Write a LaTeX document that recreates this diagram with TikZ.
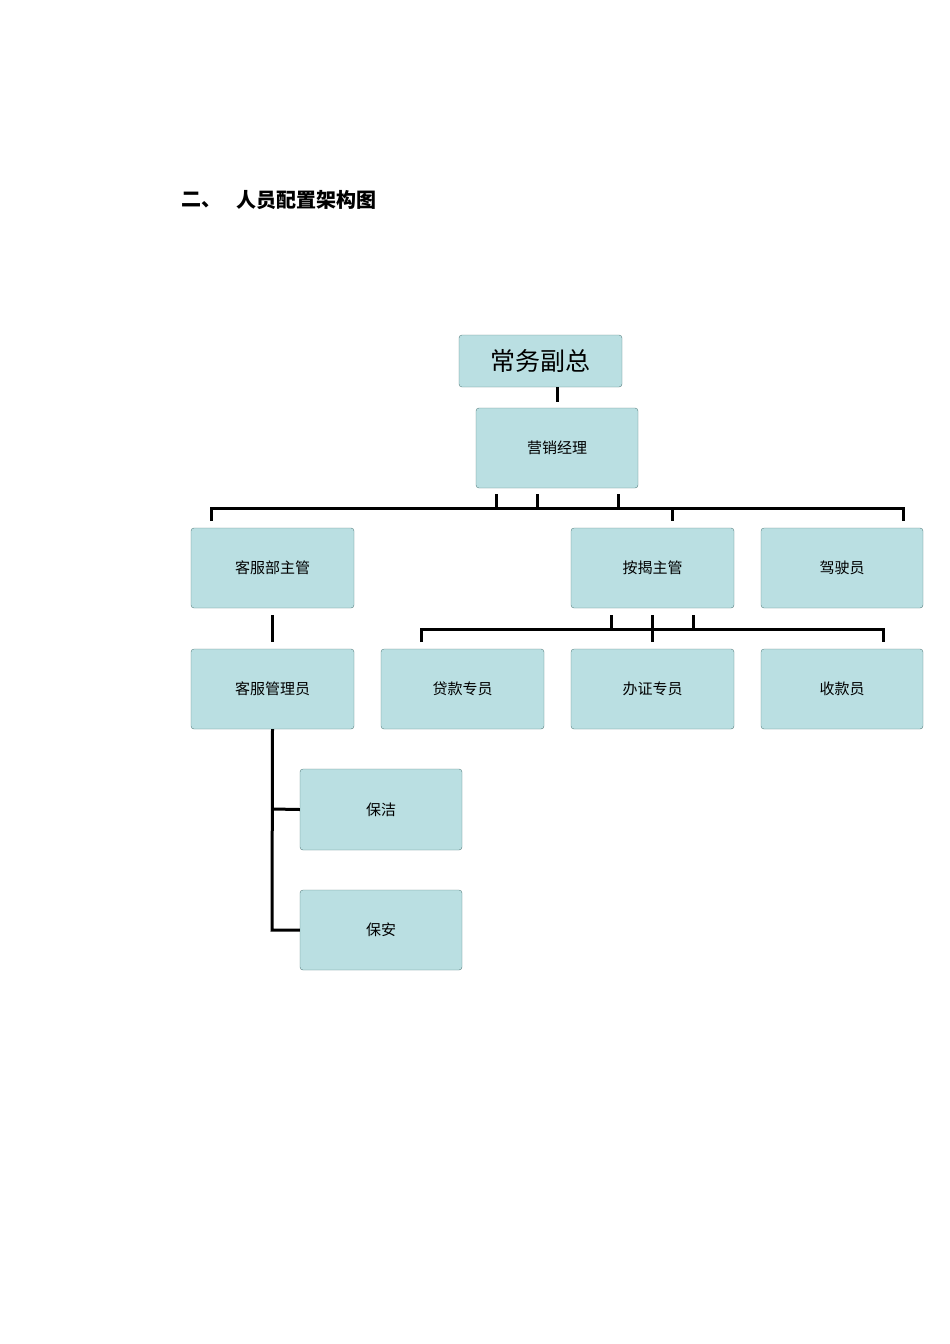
\documentclass[tikz,border=0pt]{standalone}
\usepackage{fontspec}
\newfontfamily\cjk{Noto Sans CJK SC}
\tikzset{
 box/.style={draw=gray!70!teal, fill=cyan!25!teal!20!white, fill=boxfill, rounded corners=3pt, line width=0.4pt, inner sep=0pt, font=\cjk\fontsize{15}{15}\selectfont},
 ln/.style={line width=3pt}
}
\definecolor{boxfill}{HTML}{BADFE2}
\begin{document}
\begin{tikzpicture}[x=1pt,y=-1pt]
\useasboundingbox (0,0) rectangle (950,1344);
\node[anchor=west,font=\cjk\bfseries\fontsize{20}{20}\selectfont] (t1) at (178,200) {二、};
\node[anchor=west,font=\cjk\bfseries\fontsize{20}{20}\selectfont] (t2) at (233,200) {人员配置架构图};
\newcommand\bx[6]{\node[box,minimum width=#4-#2,minimum height=#5-#3] (#1) at ({(#2+#4)/2},{(#3+#5)/2}) {#6};}
\bx{a}{459}{335}{622}{387}{}
\node[font=\cjk\fontsize{25}{25}\selectfont] (at) at (a) {常务副总};
\bx{b}{476}{408}{638}{488}{营销经理}
\bx{c1}{191}{528}{354}{608}{客服部主管}
\bx{c2}{571}{528}{734}{608}{按揭主管}
\bx{c3}{761}{528}{923}{608}{驾驶员}
\bx{d1}{191}{649}{354}{729}{客服管理员}
\bx{d2}{381}{649}{544}{729}{贷款专员}
\bx{d3}{571}{649}{734}{729}{办证专员}
\bx{d4}{761}{649}{923}{729}{收款员}
\bx{e1}{300}{769}{462}{850}{保洁}
\bx{e2}{300}{890}{462}{970}{保安}
\draw[ln] (a.south -| 557,0) -- (557,402);
\draw[ln] (211,521) -- (211,508) -- (903,508) -- (903,521);
\draw[ln] (672,508) -- (672,521);
\draw[ln] (496,494) -- (496,508) (537,494) -- (537,508) (618,494) -- (618,508);
\draw[ln] (421,642) -- (421,629) -- (883,629) -- (883,642);
\draw[ln] (611,615) -- (611,629) (652,615) -- (652,642) (693,615) -- (693,629);
\draw[ln] (272,615) -- (272,642);
\draw[ln] (d1.south) -- (272,930) -- (e2.west);
\draw[ln] (272,809) -- (e1.west);
\end{tikzpicture}
\end{document}
